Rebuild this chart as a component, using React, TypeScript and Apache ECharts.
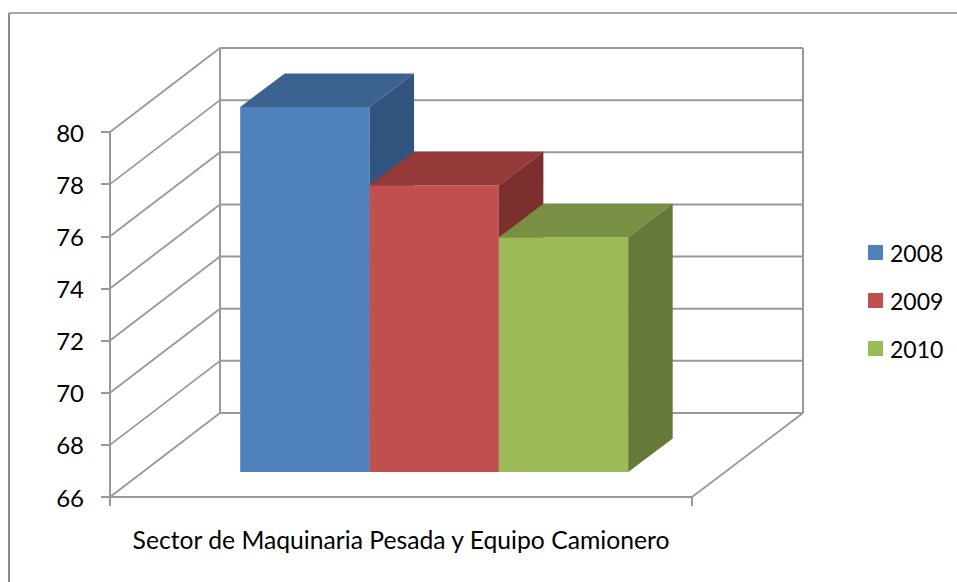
import React, { useEffect, useRef } from "react";
import * as echarts from "echarts";

const categories = ["Sector de Maquinaria Pesada y Equipo Camionero"];
const years = ["2008", "2009", "2010"];
const values = [80, 77, 75];
const yTicks = [66, 68, 70, 72, 74, 76, 78, 80];
const frontColors = ["#4f81bd", "#c0504d", "#9bbb59"];
const topColors = ["#3c6290", "#953a38", "#788f44"];
const sideColors = ["#31547e", "#7b302e", "#657a39"];

const AXIS = "#999999";
const FONT = "Lato, Carlito, Calibri, sans-serif";
const WALL_DX = 110;
const WALL_DY = 84;
const BAR_DX = 44.5;
const BAR_DY = 33.5;
const BASE_DX = 33.2;
const BASE_DY = 25;
const Y_MIN = 66;

export default function App() {
  const ref = useRef<HTMLDivElement>(null);
  useEffect(() => {
    const chart = echarts.init(ref.current!, undefined, { renderer: "svg" });
    const wall = {
      type: "custom",
      name: "walls",
      silent: true,
      data: yTicks.map((t) => [0, t]),
      z: 1,
      renderItem: (params: any, api: any) => {
        const c = params.coordSys;
        const y = api.coord([0, api.value(1)])[1];
        const left = c.x;
        const right = c.x + c.width;
        const bx = left + WALL_DX;
        const by = y - WALL_DY;
        const children: any[] = [
          { type: "line", shape: { x1: left, y1: y, x2: bx, y2: by }, style: { stroke: AXIS, lineWidth: 1.8 } },
          { type: "line", shape: { x1: bx, y1: by, x2: right + WALL_DX + 1, y2: by }, style: { stroke: AXIS, lineWidth: 2 } },
        ];
        if (api.value(1) === Y_MIN) {
          children.push(
            { type: "line", shape: { x1: right, y1: y, x2: right + WALL_DX + 1, y2: by }, style: { stroke: AXIS, lineWidth: 1.8 } },
            { type: "line", shape: { x1: bx, y1: by, x2: bx, y2: by - c.height }, style: { stroke: AXIS, lineWidth: 2 } },
            { type: "line", shape: { x1: right + WALL_DX + 1, y1: by, x2: right + WALL_DX + 1, y2: by - c.height }, style: { stroke: AXIS, lineWidth: 2 } }
          );
        }
        return { type: "group", children };
      },
    };
    const bars = years.map((year, i) => ({
      type: "custom",
      name: year,
      itemStyle: { color: frontColors[i] },
      data: [[0, values[i]]],
      z: 2,
      renderItem: (params: any, api: any) => {
        const c = params.coordSys;
        const band = api.size([1, 0])[0];
        const w = band / 4.5;
        const x0 = c.x + w * (0.75 + i) + BASE_DX;
        const x1 = x0 + w;
        const yBase = api.coord([0, Y_MIN])[1] - BASE_DY;
        const yTop = api.coord([0, api.value(1)])[1] - BASE_DY;
        return {
          type: "group",
          children: [
            { type: "rect", shape: { x: x0, y: yTop, width: w, height: yBase - yTop }, style: { fill: frontColors[i] } },
            {
              type: "polygon",
              shape: { points: [[x0, yTop], [x1, yTop], [x1 + BAR_DX, yTop - BAR_DY], [x0 + BAR_DX, yTop - BAR_DY]] },
              style: { fill: topColors[i] },
            },
            {
              type: "polygon",
              shape: { points: [[x1, yTop], [x1 + BAR_DX, yTop - BAR_DY], [x1 + BAR_DX, yBase - BAR_DY], [x1, yBase]] },
              style: { fill: sideColors[i] },
            },
          ],
        };
      },
    }));
    chart.setOption({
      animation: false,
      backgroundColor: "#ffffff",
      textStyle: { fontFamily: FONT },
      grid: { left: 110, top: 132, width: 582, height: 365 },
      legend: {
        data: years,
        orient: "vertical",
        left: 868,
        top: 241,
        padding: 0,
        itemWidth: 15,
        itemHeight: 15,
        itemGap: 25,
        icon: "rect",
        textStyle: { fontSize: 23, fontFamily: FONT, color: "#000", padding: [0, 0, 0, 2] },
      },
      xAxis: {
        type: "category",
        data: categories,
        axisLine: { lineStyle: { color: AXIS, width: 2 } },
        axisTick: { show: true, length: 9, lineStyle: { color: AXIS, width: 2 } },
        axisLabel: { fontSize: 24.7, fontFamily: FONT, color: "#000", margin: 30 },
      },
      yAxis: {
        type: "value",
        min: Y_MIN,
        max: 80,
        interval: 2,
        splitLine: { show: false },
        axisLine: { show: true, lineStyle: { color: AXIS, width: 2 } },
        axisTick: { show: true, length: 9, lineStyle: { color: AXIS, width: 2 } },
        axisLabel: { fontSize: 24, fontFamily: FONT, color: "#000", margin: 26 },
      },
      graphic: [
        { type: "line", shape: { x1: 9, y1: 13, x2: 9, y2: 582 }, style: { stroke: "#8c8c8c", lineWidth: 2 } },
        { type: "line", shape: { x1: 9, y1: 13, x2: 957, y2: 13 }, style: { stroke: "#8c8c8c", lineWidth: 1.5 } },
      ],
      series: [wall, ...bars],
    });
    return () => chart.dispose();
  }, []);
  return <div ref={ref} style={{ position: "absolute", left: 0, top: 0, width: 957, height: 582 }} />;
}
